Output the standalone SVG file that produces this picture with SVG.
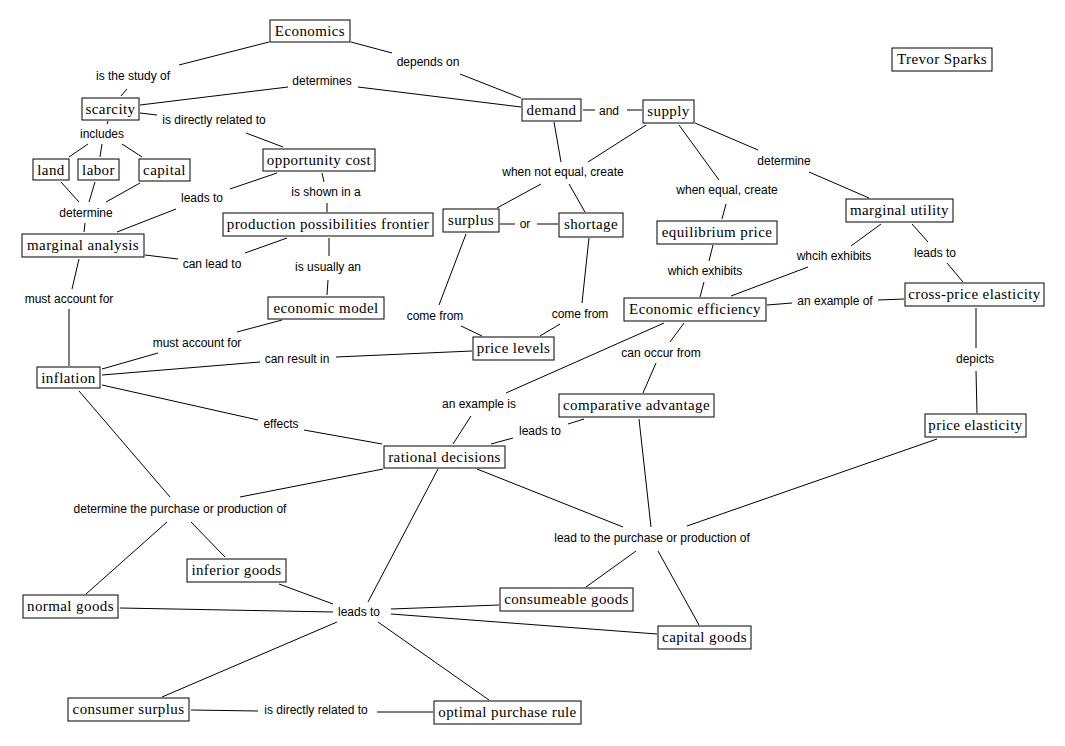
<svg xmlns="http://www.w3.org/2000/svg" width="1065" height="746" viewBox="0 0 1065 746">
<style>
.n rect{fill:#fff;stroke:#000;stroke-width:1}
.n text{font-family:"Liberation Serif",serif;font-size:15px;letter-spacing:0.4px;text-anchor:middle;fill:#000}
.l{font-family:"Liberation Sans",Arial,sans-serif;font-size:12px;text-anchor:middle;fill:#000}
#links line{stroke:#000;stroke-width:1}
</style>
<rect width="1065" height="746" fill="#fff"/>
<g id="links">
<line x1="269" y1="42" x2="179" y2="65"/>
<line x1="127" y1="89" x2="121" y2="96"/>
<line x1="351" y1="42" x2="392" y2="53"/>
<line x1="460" y1="74" x2="521" y2="98"/>
<line x1="140" y1="105" x2="288" y2="87"/>
<line x1="358" y1="87" x2="521" y2="107"/>
<line x1="140" y1="113" x2="157" y2="115"/>
<line x1="246" y1="133" x2="283" y2="147"/>
<line x1="108" y1="121" x2="107" y2="124"/>
<line x1="88" y1="144" x2="69" y2="157"/>
<line x1="102" y1="144" x2="100" y2="157"/>
<line x1="122" y1="144" x2="142" y2="157"/>
<line x1="61" y1="182" x2="79" y2="202"/>
<line x1="95" y1="182" x2="89" y2="202"/>
<line x1="140" y1="183" x2="106" y2="202"/>
<line x1="85" y1="223" x2="84" y2="232"/>
<line x1="277" y1="173" x2="230" y2="189"/>
<line x1="176" y1="209" x2="117" y2="232"/>
<line x1="322" y1="173" x2="324" y2="182"/>
<line x1="327" y1="203" x2="327" y2="212"/>
<line x1="287" y1="238" x2="245" y2="253"/>
<line x1="145" y1="255" x2="178" y2="259"/>
<line x1="329" y1="238" x2="329" y2="256"/>
<line x1="328" y1="280" x2="327" y2="295"/>
<line x1="79" y1="259" x2="72" y2="289"/>
<line x1="69" y1="309" x2="69" y2="366"/>
<line x1="282" y1="320" x2="237" y2="332"/>
<line x1="158" y1="353" x2="102" y2="369"/>
<line x1="102" y1="375" x2="260" y2="362"/>
<line x1="336" y1="357" x2="472" y2="351"/>
<line x1="102" y1="385" x2="258" y2="420"/>
<line x1="304" y1="430" x2="382" y2="444"/>
<line x1="79" y1="391" x2="170" y2="497"/>
<line x1="383" y1="469" x2="240" y2="497"/>
<line x1="167" y1="522" x2="86" y2="594"/>
<line x1="191" y1="522" x2="225" y2="557"/>
<line x1="279" y1="584" x2="333" y2="604"/>
<line x1="120" y1="608" x2="333" y2="612"/>
<line x1="337" y1="622" x2="162" y2="697"/>
<line x1="191" y1="710" x2="258" y2="711"/>
<line x1="377" y1="712" x2="433" y2="712"/>
<line x1="438" y1="469" x2="368" y2="602"/>
<line x1="391" y1="609" x2="499" y2="605"/>
<line x1="391" y1="614" x2="657" y2="634"/>
<line x1="378" y1="622" x2="489" y2="700"/>
<line x1="477" y1="469" x2="623" y2="527"/>
<line x1="639" y1="419" x2="651" y2="527"/>
<line x1="937" y1="439" x2="687" y2="526"/>
<line x1="636" y1="551" x2="586" y2="587"/>
<line x1="658" y1="551" x2="699" y2="625"/>
<line x1="583" y1="110" x2="595" y2="110"/>
<line x1="627" y1="110" x2="642" y2="110"/>
<line x1="554" y1="122" x2="561" y2="162"/>
<line x1="646" y1="125" x2="588" y2="162"/>
<line x1="541" y1="184" x2="497" y2="208"/>
<line x1="569" y1="184" x2="585" y2="212"/>
<line x1="500" y1="224" x2="515" y2="224"/>
<line x1="537" y1="224" x2="558" y2="224"/>
<line x1="466" y1="234" x2="439" y2="305"/>
<line x1="461" y1="326" x2="482" y2="336"/>
<line x1="589" y1="238" x2="582" y2="303"/>
<line x1="560" y1="324" x2="540" y2="336"/>
<line x1="679" y1="125" x2="719" y2="180"/>
<line x1="726" y1="204" x2="722" y2="219"/>
<line x1="695" y1="123" x2="758" y2="150"/>
<line x1="809" y1="172" x2="869" y2="198"/>
<line x1="713" y1="245" x2="709" y2="261"/>
<line x1="704" y1="282" x2="700" y2="297"/>
<line x1="881" y1="224" x2="851" y2="246"/>
<line x1="808" y1="267" x2="731" y2="296"/>
<line x1="912" y1="224" x2="928" y2="242"/>
<line x1="947" y1="263" x2="963" y2="282"/>
<line x1="767" y1="305" x2="792" y2="303"/>
<line x1="878" y1="300" x2="904" y2="299"/>
<line x1="976" y1="308" x2="976" y2="348"/>
<line x1="976" y1="371" x2="977" y2="413"/>
<line x1="684" y1="323" x2="670" y2="342"/>
<line x1="656" y1="363" x2="643" y2="393"/>
<line x1="664" y1="323" x2="506" y2="393"/>
<line x1="471" y1="416" x2="453" y2="444"/>
<line x1="584" y1="419" x2="568" y2="424"/>
<line x1="513" y1="438" x2="491" y2="444"/>
</g>
<g id="labels">
<text class="l" x="133" y="80">is the study of</text>
<text class="l" x="322" y="85">determines</text>
<text class="l" x="428" y="66">depends on</text>
<text class="l" x="214" y="124">is directly related to</text>
<text class="l" x="102" y="138">includes</text>
<text class="l" x="86" y="217">determine</text>
<text class="l" x="202" y="202">leads to</text>
<text class="l" x="326" y="196">is shown in a</text>
<text class="l" x="212" y="268">can lead to</text>
<text class="l" x="328" y="271">is usually an</text>
<text class="l" x="69" y="303">must account for</text>
<text class="l" x="197" y="347">must account for</text>
<text class="l" x="297" y="363">can result in</text>
<text class="l" x="281" y="428">effects</text>
<text class="l" x="609" y="115">and</text>
<text class="l" x="563" y="176">when not equal, create</text>
<text class="l" x="525" y="228">or</text>
<text class="l" x="727" y="194">when equal, create</text>
<text class="l" x="784" y="165">determine</text>
<text class="l" x="834" y="260">whcih exhibits</text>
<text class="l" x="935" y="257">leads to</text>
<text class="l" x="705" y="275">which exhibits</text>
<text class="l" x="835" y="305">an example of</text>
<text class="l" x="435" y="320">come from</text>
<text class="l" x="580" y="318">come from</text>
<text class="l" x="661" y="357">can occur from</text>
<text class="l" x="479" y="408">an example is</text>
<text class="l" x="540" y="435">leads to</text>
<text class="l" x="975" y="363">depicts</text>
<text class="l" x="180" y="513">determine the purchase or production of</text>
<text class="l" x="359" y="616">leads to</text>
<text class="l" x="316" y="714">is directly related to</text>
<text class="l" x="652" y="542">lead to the purchase or production of</text>
</g>
<g id="economics" class="n"><rect x="270" y="20" width="80" height="22"/><text x="310" y="36">Economics</text></g>
<g id="trevor" class="n"><rect x="892" y="48" width="100" height="23"/><text x="942" y="64">Trevor Sparks</text></g>
<g id="scarcity" class="n"><rect x="82" y="98" width="57" height="22"/><text x="110.5" y="114">scarcity</text></g>
<g id="land" class="n"><rect x="33" y="159" width="36" height="21"/><text x="51" y="175">land</text></g>
<g id="labor" class="n"><rect x="78" y="159" width="41" height="21"/><text x="98.5" y="175">labor</text></g>
<g id="capital" class="n"><rect x="139" y="159" width="51" height="22"/><text x="164.5" y="175">capital</text></g>
<g id="opportunity" class="n"><rect x="263" y="149" width="112" height="22"/><text x="319" y="165">opportunity cost</text></g>
<g id="ppf" class="n"><rect x="223" y="213" width="210" height="23"/><text x="328" y="229">production possibilities frontier</text></g>
<g id="marginalanalysis" class="n"><rect x="22" y="234" width="122" height="23"/><text x="83" y="250">marginal analysis</text></g>
<g id="demand" class="n"><rect x="522" y="99" width="59" height="22"/><text x="551.5" y="115">demand</text></g>
<g id="supply" class="n"><rect x="643" y="100" width="51" height="23"/><text x="668.5" y="116">supply</text></g>
<g id="surplus" class="n"><rect x="443" y="209" width="56" height="23"/><text x="471" y="225">surplus</text></g>
<g id="shortage" class="n"><rect x="559" y="213" width="64" height="24"/><text x="591" y="229">shortage</text></g>
<g id="equilibrium" class="n"><rect x="657" y="221" width="120" height="23"/><text x="717" y="237">equilibrium price</text></g>
<g id="marginalutility" class="n"><rect x="846" y="199" width="107" height="23"/><text x="899.5" y="215">marginal utility</text></g>
<g id="crossprice" class="n"><rect x="905" y="283" width="139" height="23"/><text x="974.5" y="299">cross-price elasticity</text></g>
<g id="efficiency" class="n"><rect x="624" y="298" width="142" height="23"/><text x="695" y="314">Economic efficiency</text></g>
<g id="model" class="n"><rect x="268" y="297" width="116" height="22"/><text x="326" y="313">economic model</text></g>
<g id="pricelevels" class="n"><rect x="473" y="337" width="81" height="23"/><text x="513.5" y="353">price levels</text></g>
<g id="inflation" class="n"><rect x="37" y="367" width="63" height="21"/><text x="68.5" y="383">inflation</text></g>
<g id="comparative" class="n"><rect x="559" y="394" width="155" height="23"/><text x="636.5" y="410">comparative advantage</text></g>
<g id="rational" class="n"><rect x="384" y="446" width="121" height="22"/><text x="444.5" y="462">rational decisions</text></g>
<g id="priceelasticity" class="n"><rect x="925" y="414" width="101" height="23"/><text x="975.5" y="430">price elasticity</text></g>
<g id="inferior" class="n"><rect x="187" y="559" width="99" height="23"/><text x="236.5" y="575">inferior goods</text></g>
<g id="normal" class="n"><rect x="23" y="595" width="95" height="23"/><text x="70.5" y="611">normal goods</text></g>
<g id="consumersurplus" class="n"><rect x="68" y="698" width="121" height="23"/><text x="128.5" y="714">consumer surplus</text></g>
<g id="consumeable" class="n"><rect x="500" y="588" width="133" height="23"/><text x="566.5" y="604">consumeable goods</text></g>
<g id="capitalgoods" class="n"><rect x="658" y="626" width="93" height="23"/><text x="704.5" y="642">capital goods</text></g>
<g id="optimal" class="n"><rect x="434" y="701" width="147" height="23"/><text x="507.5" y="717">optimal purchase rule</text></g>
</svg>
